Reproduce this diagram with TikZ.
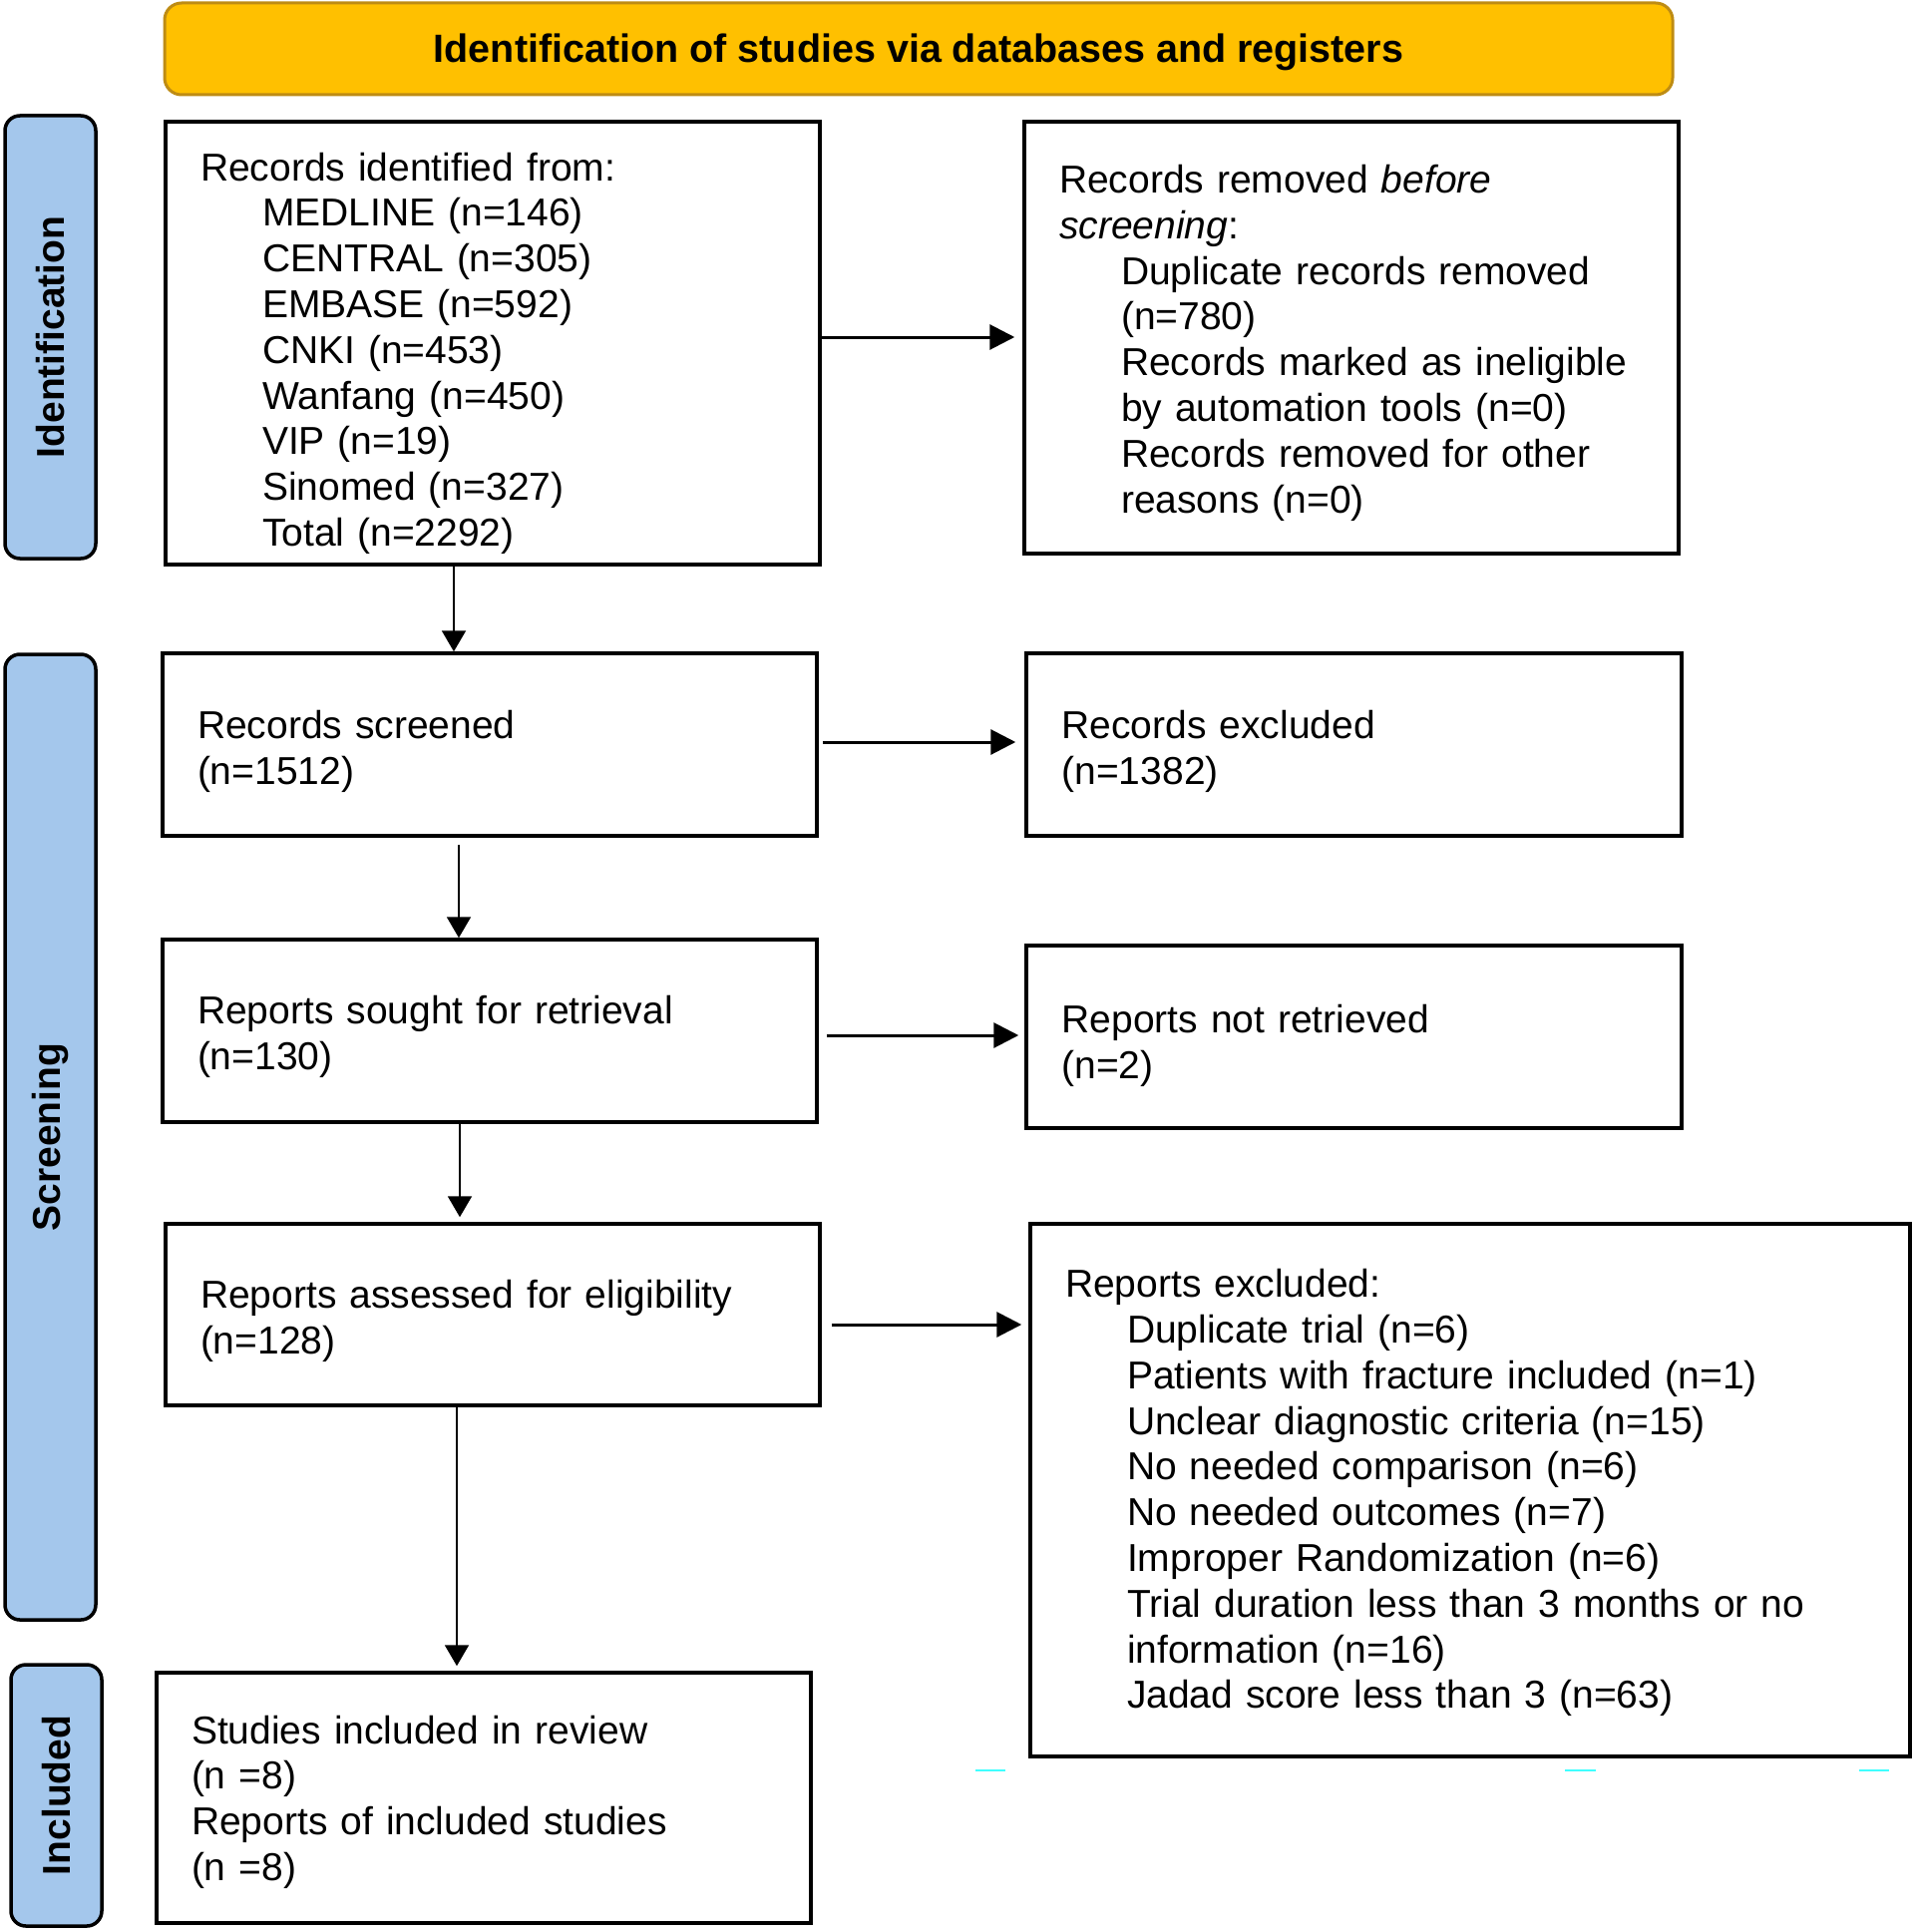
\documentclass[tikz,border=0pt]{standalone}
\usepackage{fontspec}
\setmainfont{Liberation Sans}
\usetikzlibrary{arrows.meta}
\definecolor{hdrfill}{RGB}{255,192,0}
\definecolor{hdrdraw}{RGB}{190,140,20}
\definecolor{sidefill}{RGB}{164,199,236}
\definecolor{markcol}{RGB}{64,255,255}
\newcommand{\ind}{\hspace*{62pt}}
\begin{document}
\begin{tikzpicture}[x=1pt,y=-1pt,
  txt/.style={font=\fontsize{39}{45.8}\selectfont},
  flowbox/.style={txt,draw=black,line width=3.5pt,align=left,inner xsep=35pt,inner ysep=0pt,text width=#1},
  flowbox/.default=586pt,
  topstrut/.style={execute at begin node={\rule{0pt}{#1}}},
  sidebar/.style={draw=black,line width=3.5pt,fill=sidefill,rounded corners=15pt,rotate=90,
    font=\fontsize{39}{45}\selectfont\bfseries,minimum height=91pt,inner sep=0pt},
  header/.style={draw=hdrdraw,line width=3pt,fill=hdrfill,rounded corners=17pt,
    font=\fontsize{39.5}{45}\selectfont\bfseries,minimum width=1512pt,minimum height=92pt,inner sep=0pt},
  harr/.style={draw=black,line width=3pt,-{Triangle[length=25pt,width=25pt]}},
  varr/.style={draw=black,line width=2pt,-{Triangle[length=21pt,width=24pt]}}
]
\useasboundingbox (0,0) rectangle (1919,1937);

% header
\node[header,topstrut=36pt] (hdr) at (921,49) {Identification of studies via databases and registers};

% side bars
\node[sidebar,minimum width=444pt] (sid) at (50.5,338) {Identification};
\node[sidebar,minimum width=968pt] (sscr) at (50.5,1140) {Screening};
\node[sidebar,minimum width=262pt] (sinc) at (56.5,1800) {Included};

% boxes
\node[flowbox,topstrut=48.5pt,minimum width=656pt,minimum height=444pt] (b1) at (494,344) {%
Records identified from:\\
\ind MEDLINE (n=146)\\
\ind CENTRAL (n=305)\\
\ind EMBASE (n=592)\\
\ind CNKI (n=453)\\
\ind Wanfang (n=450)\\
\ind VIP (n=19)\\
\ind Sinomed (n=327)\\
\ind Total (n=2292)};

\node[flowbox,topstrut=38.5pt,minimum width=656pt,minimum height=433pt] (rem) at (1355,338.5) {%
Records removed \textit{before}\\
\textit{screening}:\\
\ind Duplicate records removed\\
\ind (n=780)\\
\ind Records marked as ineligible\\
\ind by automation tools (n=0)\\
\ind Records removed for other\\
\ind reasons (n=0)};

\node[flowbox,topstrut=42.5pt,minimum width=656pt,minimum height=183pt] (scr) at (491,746.5) {%
Records screened\\(n=1512)};
\node[flowbox,topstrut=42.5pt,minimum width=657pt,minimum height=183pt] (exc) at (1357.5,746.5) {%
Records excluded\\(n=1382)};

\node[flowbox,topstrut=40.5pt,minimum width=656pt,minimum height=183pt] (sought) at (491,1033.5) {%
Reports sought for retrieval\\(n=130)};
\node[flowbox,topstrut=45.5pt,minimum width=657pt,minimum height=183pt] (notret) at (1357.5,1039.5) {%
Reports not retrieved\\(n=2)};

\node[flowbox,topstrut=40.5pt,minimum width=656pt,minimum height=182pt] (assess) at (494,1318) {%
Reports assessed for eligibility\\(n=128)};
\node[flowbox=812pt,topstrut=33.5pt,minimum width=882pt,minimum height=534pt] (repexc) at (1474,1494) {%
Reports excluded:\\
\ind Duplicate trial (n=6)\\
\ind Patients with fracture included (n=1)\\
\ind Unclear diagnostic criteria (n=15)\\
\ind No needed comparison (n=6)\\
\ind No needed outcomes (n=7)\\
\ind Improper Randomization (n=6)\\
\ind Trial duration less than 3 months or no\\
\ind information (n=16)\\
\ind Jadad score less than 3 (n=63)};

\node[flowbox,topstrut=36.5pt,minimum width=656pt,minimum height=251pt] (incl) at (485,1802.5) {%
Studies included in review\\
(n =8)\\
Reports of included studies\\
(n =8)};

% connectors
\draw[harr,shorten >=8pt] (b1.east |- 0,338) -- (rem.west |- 0,338);
\draw[harr,shorten <=4pt,shorten >=9pt] (scr.east |- 0,744) -- (exc.west |- 0,744);
\draw[harr,shorten <=8pt,shorten >=6pt] (sought.east |- 0,1038) -- (notret.west |- 0,1038);
\draw[harr,shorten <=10pt,shorten >=7pt] (assess.east |- 0,1328) -- (repexc.west |- 0,1328);

\draw[varr] (b1.south -| 455,0) -- (scr.north -| 455,0);
\draw[varr,shorten <=7pt] (scr.south -| 460,0) -- (sought.north -| 460,0);
\draw[varr,shorten >=5pt] (sought.south -| 461,0) -- (assess.north -| 461,0);
\draw[varr,shorten >=5pt] (assess.south -| 458,0) -- (incl.north -| 458,0);

% small cyan marks
\draw[markcol,line width=2pt] (978,1775) -- (1008,1775);
\draw[markcol,line width=2pt] (1569,1775) -- (1600,1775);
\draw[markcol,line width=2pt] (1864,1775) -- (1894,1775);
\end{tikzpicture}
\end{document}
